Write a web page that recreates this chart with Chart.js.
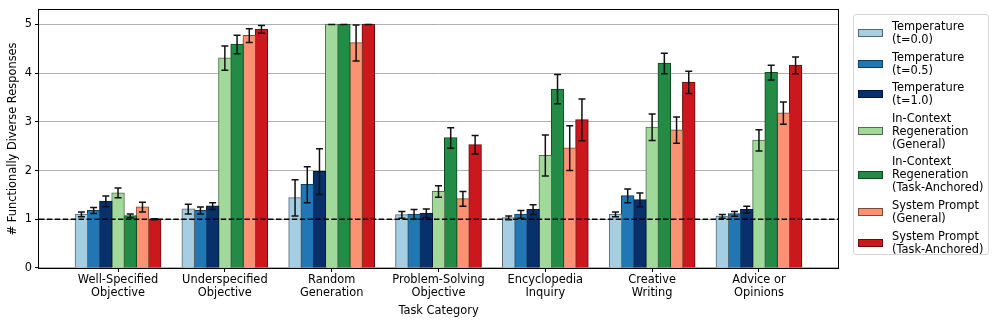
<!DOCTYPE html>
<html>
<head>
<meta charset="utf-8">
<script src="https://cdn.jsdelivr.net/npm/chart.js@4.4.1/dist/chart.umd.min.js"></script>
<style>
  html, body { margin: 0; padding: 0; background: #fff; }
  #wrap { position: relative; width: 997px; height: 326px; font-family: "DejaVu Sans", sans-serif; }
  #c { position: absolute; left: 0; top: 0; }
  #legend { position: absolute; left: 853px; top: 14px; width: 136px; height: 241px; border: 1px solid #d6d6d6; border-radius: 3px; box-sizing: border-box; padding: 5px 0 0 0; }
  .item { display: flex; align-items: center; margin-bottom: 4.6px; }
  .patch { width: 25px; height: 8px; margin-left: 4px; margin-right: 9px; box-sizing: border-box; border: 1px solid; flex: none; }
  .lab { font-size: 11.4px; line-height: 13px; color: #000; white-space: nowrap; }
</style>
</head>
<body>
<div id="wrap">
  <canvas id="c" width="997" height="326"></canvas>
  <div id="legend"></div>
</div>
<script>
const categories = [
  ["Well-Specified", "Objective"],
  ["Underspecified", "Objective"],
  ["Random", "Generation"],
  ["Problem-Solving", "Objective"],
  ["Encyclopedia", "Inquiry"],
  ["Creative", "Writing"],
  ["Advice or", "Opinions"]
];
const seriesNames = [
  ["Temperature", "(t=0.0)"],
  ["Temperature", "(t=0.5)"],
  ["Temperature", "(t=1.0)"],
  ["In-Context", "Regeneration", "(General)"],
  ["In-Context", "Regeneration", "(Task-Anchored)"],
  ["System Prompt", "(General)"],
  ["System Prompt", "(Task-Anchored)"]
];
const seriesColors = ["#a6cee3", "#2077b4", "#08306b", "#a1d99b", "#238b45", "#fc9272", "#cb181d"];

const temp00    = [1.10, 1.21, 1.44, 1.09, 1.03, 1.10, 1.06];
const temp00Err = [0.05, 0.10, 0.37, 0.07, 0.04, 0.05, 0.04];
const temp05    = [1.18, 1.18, 1.71, 1.10, 1.10, 1.48, 1.11];
const temp05Err = [0.06, 0.07, 0.37, 0.10, 0.08, 0.14, 0.05];
const temp10    = [1.37, 1.27, 1.98, 1.12, 1.20, 1.40, 1.20];
const temp10Err = [0.11, 0.07, 0.47, 0.09, 0.10, 0.14, 0.07];
const icrGen    = [1.54, 4.31, 5.00, 1.57, 2.31, 2.89, 2.62];
const icrGenErr = [0.10, 0.25, 0.00, 0.12, 0.42, 0.27, 0.22];
const icrTask    = [1.07, 4.59, 5.00, 2.67, 3.67, 4.20, 4.01];
const icrTaskErr = [0.04, 0.19, 0.00, 0.21, 0.30, 0.21, 0.15];
const spGen     = [1.25, 4.77, 4.62, 1.42, 2.46, 2.83, 3.18];
const spGenErr  = [0.10, 0.14, 0.37, 0.15, 0.46, 0.27, 0.23];
const spTask    = [1.00, 4.90, 5.00, 2.53, 3.04, 3.81, 4.16];
const spTaskErr = [0.01, 0.08, 0.00, 0.19, 0.43, 0.23, 0.17];

const yTicks = [0, 1, 2, 3, 4, 5];
const baselineValue = 1;

const seriesValues = [temp00, temp05, temp10, icrGen, icrTask, spGen, spTask];
const seriesErrors = [temp00Err, temp05Err, temp10Err, icrGenErr, icrTaskErr, spGenErr, spTaskErr];

const FONT = "DejaVu Sans";

function edgeColor(hex) {
  const n = parseInt(hex.slice(1), 16);
  const k = 0.5;
  const r = Math.round(((n >> 16) & 255) * k), g = Math.round(((n >> 8) & 255) * k), b = Math.round((n & 255) * k);
  return `rgb(${r},${g},${b})`;
}

const datasets = seriesValues.map((vals, s) => ({
  label: seriesNames[s].join(" "),
  data: vals.map((v, i) => ({ x: i, y: v })),
  errors: seriesErrors[s],
  backgroundColor: seriesColors[s],
  borderColor: edgeColor(seriesColors[s]),
  borderWidth: 1,
  inflateAmount: 0.6,
  categoryPercentage: 0.8,
  barPercentage: 1.0
}));

const overlayPlugin = {
  id: "overlay",
  afterDatasetsDraw(chart) {
    const ctx = chart.ctx;
    const ys = chart.scales.y;
    const area = chart.chartArea;
    ctx.save();
    const yb = ys.getPixelForValue(baselineValue);
    ctx.strokeStyle = "#000";
    ctx.lineWidth = 1.5;
    ctx.setLineDash([5.5, 2.4]);
    ctx.beginPath();
    ctx.moveTo(area.left, yb);
    ctx.lineTo(area.right, yb);
    ctx.stroke();
    ctx.setLineDash([]);
    ctx.lineWidth = 1.5;
    ctx.strokeStyle = "#111";
    chart.data.datasets.forEach((ds, di) => {
      const meta = chart.getDatasetMeta(di);
      meta.data.forEach((el, j) => {
        const v = ds.data[j].y;
        const e = ds.errors[j];
        const x = el.x;
        const y1 = ys.getPixelForValue(v - e);
        const y2 = ys.getPixelForValue(v + e);
        ctx.beginPath();
        ctx.moveTo(x, y1); ctx.lineTo(x, y2);
        ctx.moveTo(x - 3.5, y1); ctx.lineTo(x + 3.5, y1);
        ctx.moveTo(x - 3.5, y2); ctx.lineTo(x + 3.5, y2);
        ctx.stroke();
      });
    });
    ctx.lineWidth = 1;
    ctx.strokeStyle = "#000";
    ctx.strokeRect(Math.round(area.left) - 0.5, Math.round(area.top) - 0.5, Math.round(area.right - area.left) + 1, Math.round(area.bottom - area.top) + 1);
    ctx.restore();
  }
};

new Chart(document.getElementById("c"), {
  type: "bar",
  data: { datasets },
  options: {
    responsive: false,
    animation: false,
    devicePixelRatio: 1,
    layout: { padding: { left: 0, right: 159, top: 8, bottom: 0 } },
    plugins: { legend: { display: false }, tooltip: { enabled: false } },
    scales: {
      x: {
        type: "linear",
        min: -0.74,
        max: 6.74,
        offset: false,
        border: { display: false },
        grid: { display: true, drawOnChartArea: false, drawTicks: true, tickLength: 4, tickColor: "#000", offset: false },
        afterBuildTicks: (scale) => { scale.ticks = categories.map((_, i) => ({ value: i })); },
        afterFit: (scale) => { scale.height = 58; },
        ticks: {
          autoSkip: false,
          maxRotation: 0,
          padding: 2,
          color: "#000",
          font: { family: FONT, size: 11.4, lineHeight: 1.1 },
          callback: (value) => categories[value] || ""
        },
        title: { display: true, text: "Task Category", color: "#000", font: { family: FONT, size: 11.4, lineHeight: 1.2 }, padding: { top: 0, bottom: 8 } }
      },
      y: {
        min: 0,
        max: 5.3,
        border: { display: false },
        grid: { color: "#b0b0b0", lineWidth: 1, tickLength: 4, tickColor: "#000" },
        afterBuildTicks: (scale) => { scale.ticks = yTicks.map(v => ({ value: v })); },
        afterFit: (scale) => { scale.width = 39; },
        ticks: { padding: 3, color: "#000", font: { family: FONT, size: 11.4 } },
        title: { display: true, text: "# Functionally Diverse Responses", color: "#000", font: { family: FONT, size: 11.4, lineHeight: 1.2 }, padding: { top: 6, bottom: 0 } }
      }
    }
  },
  plugins: [overlayPlugin]
});

const leg = document.getElementById("legend");
seriesNames.forEach((lines, s) => {
  const item = document.createElement("div");
  item.className = "item";
  const p = document.createElement("div");
  p.className = "patch";
  p.style.background = seriesColors[s];
  p.style.borderColor = edgeColor(seriesColors[s]);
  const t = document.createElement("div");
  t.className = "lab";
  t.innerHTML = lines.join("<br>");
  item.appendChild(p); item.appendChild(t);
  leg.appendChild(item);
});
</script>
</body>
</html>
